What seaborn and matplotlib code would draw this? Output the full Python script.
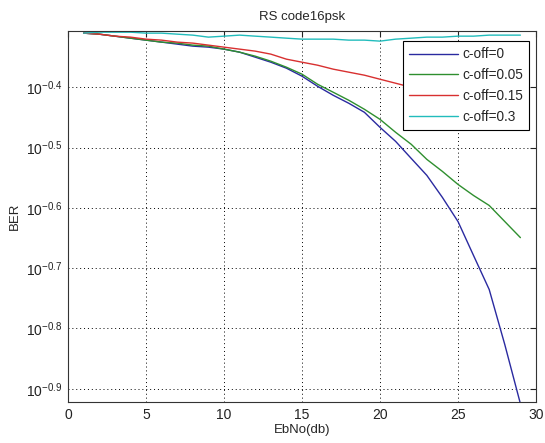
import matplotlib
matplotlib.use("Agg")
import matplotlib.pyplot as plt
import matplotlib.ticker as mticker
import numpy as np
import pandas as pd
import seaborn as sns

# EbNo points (dB)
ebno = list(range(1, 30))

# BER curves, one per roll-off factor
ber_coff_0 = [0.4895, 0.4876, 0.4839, 0.4802, 0.4766, 0.4730, 0.4694, 0.4658, 0.4640, 0.4605,
              0.4552, 0.4466, 0.4381, 0.4282, 0.4153, 0.3996, 0.3861, 0.3745, 0.3618, 0.3416,
              0.3238, 0.3034, 0.2844, 0.2614, 0.2384, 0.2093, 0.1839, 0.1490, 0.1189]
ber_coff_005 = [0.4895, 0.4876, 0.4839, 0.4802, 0.4766, 0.4730, 0.4712, 0.4676, 0.4658, 0.4605,
                0.4552, 0.4483, 0.4398, 0.4298, 0.4185, 0.4027, 0.3906, 0.3788, 0.3660, 0.3522,
                0.3352, 0.3202, 0.3023, 0.2887, 0.2747, 0.2633, 0.2535, 0.2384, 0.2242]
ber_coff_015 = [0.4895, 0.4876, 0.4839, 0.4821, 0.4784, 0.4766, 0.4730, 0.4712, 0.4676, 0.4640,
                0.4605, 0.4570, 0.4518, 0.4432, 0.4381, 0.4331, 0.4266, 0.4217, 0.4169, 0.4105,
                0.4043, 0.3981, 0.3921, 0.3876, 0.3832, 0.3788, 0.3745, 0.3702, 0.3660]
ber_coff_03 = [0.4895, 0.4913, 0.4913, 0.4913, 0.4895, 0.4895, 0.4876, 0.4858, 0.4821, 0.4839,
               0.4858, 0.4839, 0.4821, 0.4802, 0.4784, 0.4784, 0.4784, 0.4766, 0.4766, 0.4748,
               0.4784, 0.4802, 0.4821, 0.4821, 0.4839, 0.4839, 0.4858, 0.4858, 0.4858]

labels = ["c-off=0", "c-off=0.05", "c-off=0.15", "c-off=0.3"]
colors = ["#2a2aa0", "#2f8f2f", "#d83030", "#22bcbc"]

ytick_exp = [-0.9, -0.8, -0.7, -0.6, -0.5, -0.4]
xticks = [0, 5, 10, 15, 20, 25, 30]

# long-form table for seaborn
series = [ber_coff_0, ber_coff_005, ber_coff_015, ber_coff_03]
df = pd.concat([pd.DataFrame({"EbNo": ebno, "BER": s, "curve": lab})
                for s, lab in zip(series, labels)], ignore_index=True)

sns.set_style("white")
plt.rcParams["font.family"] = ["Liberation Sans", "DejaVu Sans"]
plt.rcParams["mathtext.default"] = "regular"

fig = plt.figure(figsize=(5.45, 4.43), dpi=100)
ax = fig.add_axes([0.1248, 0.0926, 0.8587, 0.8374])

sns.lineplot(data=df, x="EbNo", y="BER", hue="curve", palette=colors,
             linewidth=1.0, ax=ax, legend=False)

ax.set_yscale("log")
ax.set_xlim(0, 30)
ax.set_ylim(0.1197, 0.4935)

ax.yaxis.set_major_locator(mticker.FixedLocator([10 ** e for e in ytick_exp]))
ax.yaxis.set_major_formatter(mticker.FixedFormatter([r"$10^{%g}$" % e for e in ytick_exp]))
ax.yaxis.set_minor_locator(mticker.NullLocator())
ax.set_xticks(xticks)
ax.set_xticklabels([str(t) for t in xticks])

ax.tick_params(direction="in", length=4, width=0.8, top=True, right=True,
               labelsize=10, colors="#222222", pad=4)
ax.grid(True, color="black", linestyle=(0, (1, 3)), linewidth=0.7)
for sp in ax.spines.values():
    sp.set_color("#333333")
    sp.set_linewidth(0.8)

ax.set_xlabel("EbNo(db)", fontsize=9.5, labelpad=2)
ax.set_ylabel("BER", fontsize=9.5, labelpad=4)
ax.set_title("RS code16psk", fontsize=9.5, pad=8)

handles = [plt.Line2D([], [], color=c, linewidth=1.0) for c in colors]
leg = ax.legend(handles, labels, loc="upper right", bbox_to_anchor=(0.9915, 0.98),
                fontsize=9.8, frameon=True, fancybox=False, framealpha=1,
                edgecolor="black", handlelength=3.6, handletextpad=0.3,
                borderpad=0.45, labelspacing=0.5, borderaxespad=0.2)
leg.get_frame().set_linewidth(0.8)

fig.savefig("out.png", dpi=100)
